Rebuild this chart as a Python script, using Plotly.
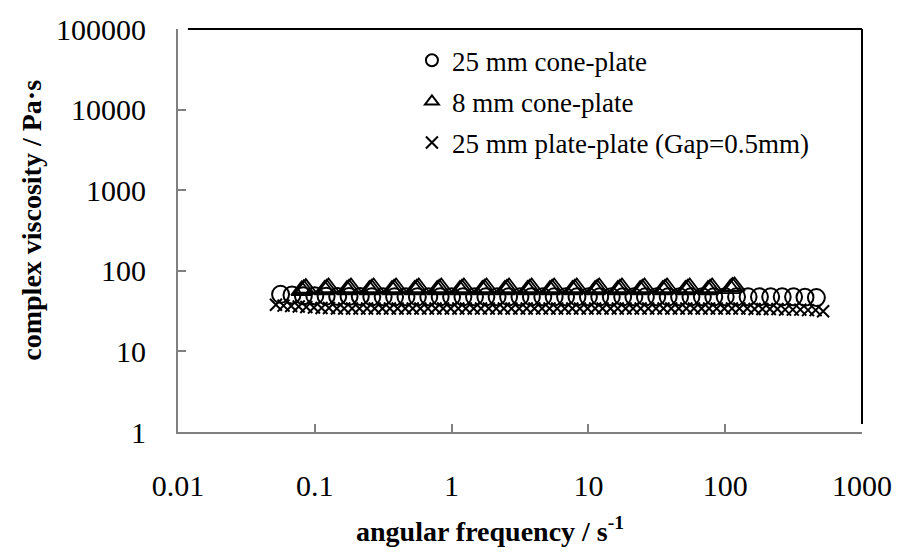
import plotly.graph_objects as go

# ---- data ----
cone25_freq = [0.0562, 0.0681, 0.0825,
               0.1, 0.121, 0.147, 0.178, 0.215, 0.261, 0.316, 0.383, 0.464, 0.562, 0.681, 0.825,
               1, 1.21, 1.47, 1.78, 2.15, 2.61, 3.16, 3.83, 4.64, 5.62, 6.81, 8.25,
               10, 12.1, 14.7, 17.8, 21.5, 26.1, 31.6, 38.3, 46.4, 56.2, 68.1, 82.5,
               100, 121, 147, 178, 215, 261, 316, 383, 464]
cone25_visc = [51, 50, 49,
               49, 48.5, 48, 48, 48, 47.5, 47.5, 47.5, 47.5, 47.5, 47.5, 47.5,
               47.5, 47.5, 47.5, 47.5, 47.5, 47.5, 47.5, 47.5, 47.5, 47.5, 47.5, 47.5,
               47.5, 47.5, 47.5, 47.5, 47.5, 47.5, 47.5, 47.5, 47.5, 47.5, 47.5, 47.5,
               47.5, 47.5, 47.5, 47.5, 47.5, 47.5, 47.5, 47, 46.5]

# 8 mm cone-plate: three overlapping sweeps (clusters of triangles)
cone8_freq = [0.083, 0.122, 0.178, 0.26, 0.38, 0.556, 0.813, 1.19, 1.74, 2.54,
              3.72, 5.43, 7.94, 11.6, 17.0, 24.8, 36.3, 53.1, 77.6, 113,
              0.080, 0.118, 0.172, 0.251, 0.367, 0.537, 0.785, 1.15, 1.68, 2.45,
              3.59, 5.24, 7.66, 11.2, 16.4, 23.9, 35.0, 51.2, 74.9, 109,
              0.086, 0.126, 0.184, 0.269, 0.393, 0.575, 0.841, 1.23, 1.80, 2.63,
              3.85, 5.62, 8.22, 12.0, 17.6, 25.7, 37.6, 55.0, 80.3, 117]
cone8_visc = [59, 60, 60, 60, 60, 60, 60, 60, 60, 60,
              60, 60, 60, 60, 60, 60, 60, 60, 60, 63,
              57, 58, 58, 58, 58, 58, 58, 58, 58, 58,
              58, 58, 58, 58, 58, 58, 58, 58, 58, 60,
              61, 62, 62, 62, 62, 62, 62, 62, 62, 62,
              62, 62, 62, 62, 62, 62, 62, 62, 62, 64]

plate25_freq = [0.052, 0.0591, 0.0672, 0.0763, 0.0867, 0.0986, 0.112, 0.127, 0.145, 0.164,
                0.187, 0.212, 0.241, 0.274, 0.312, 0.354, 0.403, 0.458,
                0.52, 0.591, 0.672, 0.763, 0.867, 0.986, 1.12, 1.27, 1.45, 1.64,
                1.87, 2.12, 2.41, 2.74, 3.12, 3.54, 4.03, 4.58,
                5.2, 5.91, 6.72, 7.63, 8.67, 9.86, 11.2, 12.7, 14.5, 16.4,
                18.7, 21.2, 24.1, 27.4, 31.2, 35.4, 40.3, 45.8,
                52, 59.1, 67.2, 76.3, 86.7, 98.6, 112, 127, 145, 164,
                187, 212, 241, 274, 312, 354, 403, 458, 520]
plate25_visc = [38, 37, 36.5, 36, 35.5, 35, 34.5, 34.5, 34, 34,
                34, 34, 34, 34, 34, 34, 34, 34,
                34, 34, 34, 34, 34, 34, 34, 34, 34, 34,
                34, 34, 34, 34, 34, 34, 34, 34,
                34, 34, 34, 34, 34, 34, 34, 34, 34, 34,
                34, 34, 34, 34, 34, 34, 34, 34,
                34, 34, 34, 34, 34, 34, 34, 34, 34, 33.5,
                33.5, 33.5, 33.5, 33, 33, 33, 32.5, 32.5, 31.5]

x_ticks = [0.01, 0.1, 1, 10, 100, 1000]
x_tick_labels = ["0.01", "0.1", "1", "10", "100", "1000"]
y_ticks = [1, 10, 100, 1000, 10000, 100000]
y_tick_labels = ["1", "10", "100", "1000", "10000", "100000"]

FONT = "Liberation Serif"
GREY = "#808080"

fig = go.Figure()
fig.add_trace(go.Scatter(
    x=cone25_freq, y=cone25_visc, mode="markers", name="25 mm cone-plate",
    legendgroup="a",
    marker=dict(symbol="circle-open", size=17, color="black", line=dict(width=2, color="black"))))
fig.add_trace(go.Scatter(
    x=cone8_freq, y=cone8_visc, mode="markers", name="8 mm cone-plate",
    legendgroup="b",
    marker=dict(symbol="triangle-up-open", size=18, color="black", line=dict(width=1.8, color="black"))))
fig.add_trace(go.Scatter(
    x=plate25_freq, y=plate25_visc, mode="markers", name="25 mm plate-plate (Gap=0.5mm)",
    legendgroup="c",
    marker=dict(symbol="x-thin-open", size=12, color="black", line=dict(width=2, color="black"))))

fig.update_layout(
    width=904, height=552,
    margin=dict(l=178, r=36, t=28, b=120),
    paper_bgcolor="white", plot_bgcolor="white",
    font=dict(family=FONT, color="black"),
    showlegend=True,
    legend=dict(x=0.342, y=0.982, xanchor="left", yanchor="top",
                bgcolor="rgba(0,0,0,0)", font=dict(family=FONT, size=27, color="black"),
                tracegroupgap=3, itemsizing="constant"),
    xaxis=dict(type="log", range=[-2, 3], tickvals=x_ticks, ticktext=x_tick_labels,
               showgrid=False, zeroline=False, showline=True, linecolor=GREY, linewidth=2,
               ticks="inside", ticklen=8, tickwidth=2, tickcolor=GREY,
               tickfont=dict(family=FONT, size=30, color="black"), ticklabelstandoff=26),
    yaxis=dict(type="log", range=[0, 5], tickvals=y_ticks, ticktext=y_tick_labels,
               showgrid=False, zeroline=False, showline=True, linecolor=GREY, linewidth=2,
               ticks="inside", ticklen=8, tickwidth=2, tickcolor=GREY,
               tickfont=dict(family=FONT, size=30, color="black"), ticklabelstandoff=24),
    shapes=[
        dict(type="line", xref="paper", yref="paper", x0=0.0145, x1=1.0, y0=1, y1=1,
             line=dict(color="black", width=2)),
        dict(type="line", xref="paper", yref="paper", x0=1, x1=1, y0=0.02, y1=1,
             line=dict(color="black", width=2)),
    ],
    annotations=[
        dict(text="<b>complex viscosity / Pa·s</b>", xref="paper", yref="paper",
             x=-0.2145, y=0.525, xanchor="center", yanchor="middle", textangle=-90,
             showarrow=False, font=dict(family=FONT, size=28, color="black")),
        dict(text="<b>angular frequency / s<sup>-1</sup></b>", xref="paper", yref="paper",
             x=0.4565, y=-0.29, xanchor="center", yanchor="bottom",
             showarrow=False, font=dict(family=FONT, size=28, color="black")),
    ],
)

fig.write_html("out.html")
